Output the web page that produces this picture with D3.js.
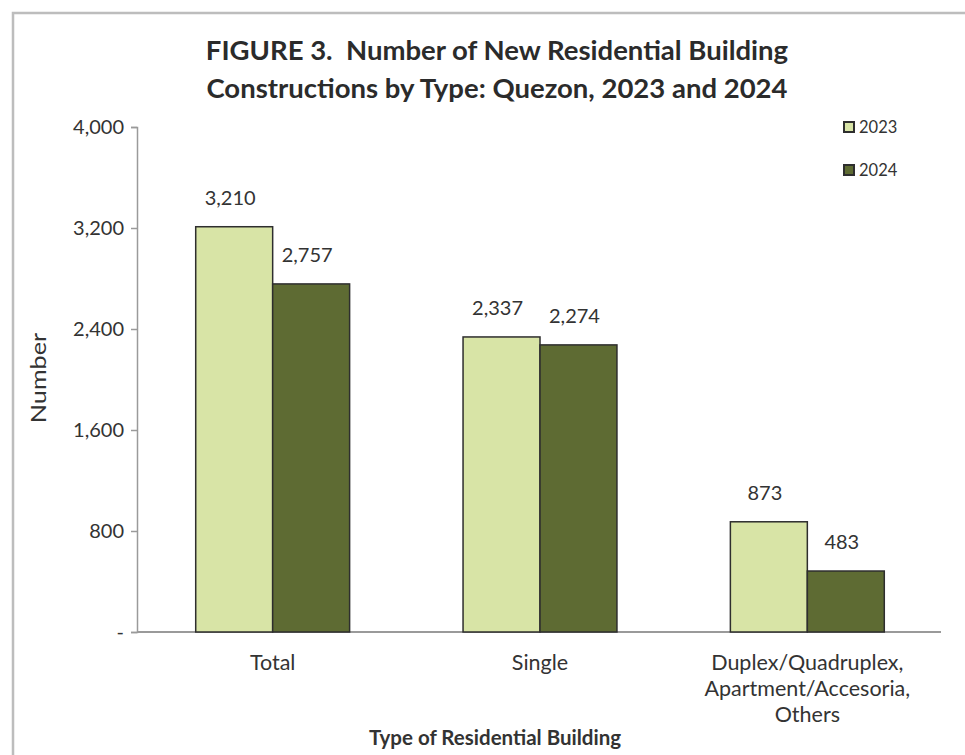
<!DOCTYPE html>
<html><head><meta charset="utf-8">
<script src="https://cdn.jsdelivr.net/npm/d3@7"></script>
<style>body{margin:0;background:#fff}svg{display:block}text{font-family:Lato,"Open Sans",sans-serif;fill:#333}</style>
</head><body><svg id="c" width="965" height="755"></svg>
<script>
const categories = ["Total","Single","Duplex/Quadruplex,\nApartment/Accesoria,\nOthers"];
const seriesNames = ["2023","2024"];
const values2023 = [3210, 2337, 873];
const values2024 = [2757, 2274, 483];
const yTicks = [0, 800, 1600, 2400, 3200, 4000];
const colors = ["#d8e4a6", "#5e6b33"];
const seriesValues = [values2023, values2024];

const svg = d3.select("#c");
svg.append("path").attr("d","M13,755V13H965").attr("fill","none").attr("stroke","#bdbdbd").attr("stroke-width",2.5);

const y = d3.scaleLinear().domain([0,4000]).range([632,127]);
const x0 = d3.scaleBand().domain(categories).range([139,941]).padding(0);
const x1 = d3.scaleBand().domain(seriesNames).range([0,x0.bandwidth()]).paddingInner(0).paddingOuter(0.737);

// title
const title = svg.append("text").attr("text-anchor","middle").style("font-weight","bold").style("font-size","27.5px").style("fill","#2b2b2b").style("white-space","pre");
title.append("tspan").attr("x",497).attr("y",60).text("FIGURE 3.  Number of New Residential Building");
title.append("tspan").attr("x",497).attr("y",98).text("Constructions by Type: Quezon, 2023 and 2024");

// y axis
const yAxis = d3.axisLeft(y).tickValues(yTicks).tickSize(6).tickPadding(7)
  .tickFormat(d => d===0 ? "-" : d3.format(",")(d));
const gy = svg.append("g").attr("transform","translate(137,0)").call(yAxis);
gy.select(".domain").attr("stroke","#9a9a9a").attr("stroke-width",1.5);
gy.selectAll(".tick line").attr("stroke","#9a9a9a").attr("stroke-width",1.5);
gy.selectAll(".tick text").style("font-size","20px").style("fill","#333").attr("font-family","Lato");

// x axis line
svg.append("line").attr("x1",137).attr("x2",941).attr("y1",y(0)).attr("y2",y(0)).attr("stroke","#9a9a9a").attr("stroke-width",2);

// bars
const groups = svg.selectAll("g.grp").data(categories).join("g").attr("class","grp")
  .attr("transform",d=>`translate(${x0(d)},0)`);
groups.each(function(cat,i){
  const g = d3.select(this);
  seriesNames.forEach((s,j)=>{
    const v = seriesValues[j][i];
    g.append("rect").attr("x",x1(s)).attr("width",x1.bandwidth()).attr("y",y(v)).attr("height",y(0)-y(v))
      .attr("fill",colors[j]).attr("stroke","#2e2e2e").attr("stroke-width",1.5);
    g.append("text").attr("x",x1(s)+x1.bandwidth()/2-4).attr("y",y(v)-22).attr("text-anchor","middle")
      .style("font-size","20px").text(d3.format(",")(v));
  });
});

// x labels
categories.forEach(c=>{
  const lines = c.split("\n");
  const t = svg.append("text").attr("text-anchor","middle").style("font-size","21.5px");
  lines.forEach((l,k)=>t.append("tspan").attr("x",x0(c)+x0.bandwidth()/2).attr("y",670+k*26).text(l));
});

// axis titles
svg.append("text").attr("transform","translate(46,378) rotate(-90) scale(1.2,1)").attr("text-anchor","middle").style("font-size","21px").text("Number");
svg.append("text").attr("x",495).attr("y",745).attr("text-anchor","middle").style("font-size","20.5px").style("font-weight","bold").text("Type of Residential Building");

// legend
seriesNames.forEach((s,j)=>{
  const ly = 127 + j*43;
  svg.append("rect").attr("x",844).attr("y",ly-5).attr("width",10).attr("height",10).attr("fill",colors[j]).attr("stroke","#2e2e2e").attr("stroke-width",2);
  svg.append("text").attr("x",859).attr("y",ly+6).style("font-size","16.5px").text(s);
});
</script></body></html>
